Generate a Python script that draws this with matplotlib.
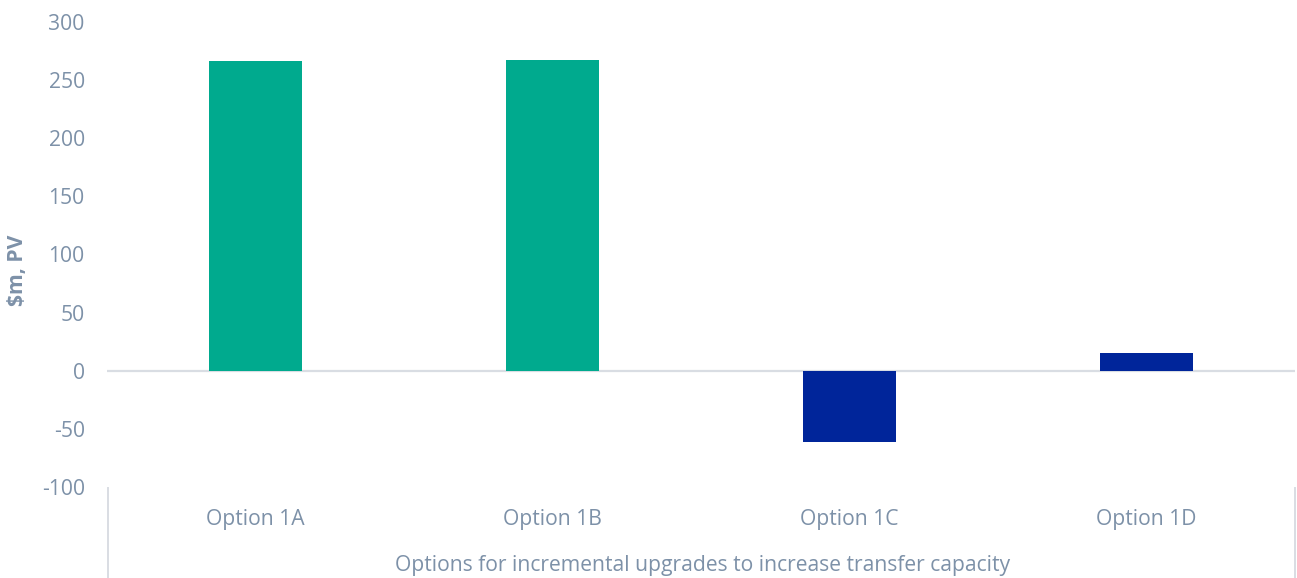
import matplotlib
matplotlib.use("Agg")
import matplotlib.pyplot as plt
from matplotlib.lines import Line2D
import matplotlib.transforms as mtransforms

categories = ["Option 1A", "Option 1B", "Option 1C", "Option 1D"]
values = [266.6, 267.4, -61.6, 15.2]
bar_colors = ["#00AA8E", "#00AA8E", "#00259A", "#00259A"]
yticks = [-100, -50, 0, 50, 100, 150, 200, 250, 300]
xlabel = "Options for incremental upgrades to increase transfer capacity"
ylabel = "$m, PV"

txt = "#7D91A8"
plt.rcParams['font.family'] = ['Open Sans', 'DejaVu Sans']
fs = 15.2

fig = plt.figure(figsize=(12.97, 5.78), dpi=100)
ax = fig.add_axes([107/1297, 1-487/578, (1295-107)/1297, (487-22)/578])

x = list(range(len(categories)))
ax.bar(x, values, width=0.316, color=bar_colors, zorder=2)
ax.axhline(0, color="#D9DDE3", lw=1.6, zorder=1)
ax.set_xlim(-0.5, len(categories)-0.5)
ax.set_ylim(-100, 300)
ax.set_yticks(yticks)
ax.set_yticklabels([str(v) for v in yticks], color=txt, fontsize=fs)
ax.tick_params(axis='y', length=0, pad=16)
ax.set_xticks([])
for s in ax.spines.values():
    s.set_visible(False)

off = mtransforms.ScaledTranslation(0, -33/100, fig.dpi_scale_trans)
for i, c in enumerate(categories):
    ax.text(i, -100, c, transform=ax.transData + off, ha='center', va='center',
            color=txt, fontsize=fs)

fig.text(703/1297, 1-565/578, xlabel, ha='center', va='center', color=txt, fontsize=fs)
fig.text(18/1297, 1-270/578, ylabel, ha='center', va='center', rotation=90,
         color=txt, fontsize=fs, fontweight='bold')

for px in (107.5, 1295):
    fig.add_artist(Line2D([px/1297, px/1297], [0, 1-488/578], color="#D9DDE3", lw=1.4))

fig.savefig("out.png", dpi=100)
